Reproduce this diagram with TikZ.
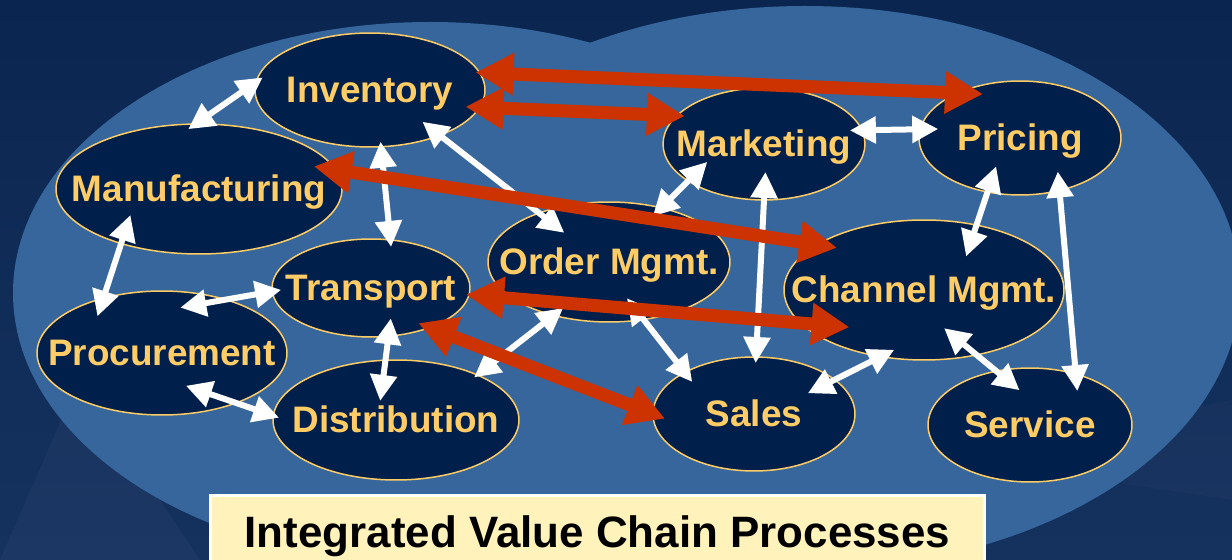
\documentclass[tikz,border=0pt]{standalone}
\usepackage{fontspec}
\setmainfont{Liberation Sans}
\usetikzlibrary{shapes,arrows.meta}
\definecolor{cSky}{HTML}{0A2650}
\definecolor{cSkyLow}{HTML}{15315E}
\definecolor{cBlob}{HTML}{36669B}
\definecolor{cNavy}{HTML}{011F4B}
\definecolor{cGold}{HTML}{FFCC66}
\definecolor{cRed}{HTML}{CC3300}
\definecolor{cCream}{HTML}{FFF2BB}
% process names keep the ellipse at its given size
\newcommand{\pname}[1]{\makebox[0pt]{#1}}

\begin{document}
\begin{tikzpicture}[x=0.02cm, y=-0.02cm,
    proc/.style={ellipse, draw=cGold, line width=0.03cm, fill=cNavy, text=cGold,
      inner sep=0pt, outer sep=0pt, text height=0.52cm, text depth=0pt,
      font=\bfseries\fontsize{21}{25}\selectfont},
    wlink/.style={draw=white, line width=0.12cm, >={Triangle[length=0.52cm,width=0.52cm]}, <->},
    rlink/.style={draw=cRed, line width=0.26cm, >={Triangle[length=0.76cm,width=0.8cm]}, <->},
    namebox/.style={draw=white, line width=0.06cm, fill=cCream, text=black, inner sep=0pt,
      font=\bfseries\fontsize{25}{30}\selectfont}]
  \useasboundingbox (0,0) rectangle (1232,560);
  \clip (0,0) rectangle (1232,560);
  % background
  \shade[top color=cSky, bottom color=cSkyLow] (0,0) rectangle (1232,560);
  \fill[white, opacity=0.03] (0,560) -- (70,400) -- (160,500) -- (200,560) -- cycle;
  \fill[white, opacity=0.025] (1040,440) -- (1232,400) -- (1232,500) -- (1100,480) -- cycle;
  \fill[cBlob] (430,293) ellipse [x radius=417, y radius=271];
  \fill[cBlob] (805,288) ellipse [x radius=435, y radius=282];

  % processes
  \node[proc, minimum width=4.6cm, minimum height=2.28cm] (inv) at (370,90) {\pname{Inventory}};
  \node[proc, minimum width=5.72cm, minimum height=2.6cm] (man) at (199,189) {\pname{Manufacturing}};
  \node[proc, minimum width=5cm, minimum height=2.48cm] (pro) at (162,353) {\pname{Procurement}};
  \node[proc, minimum width=3.96cm, minimum height=1.96cm] (tra) at (371,288) {\pname{Transport}};
  \node[proc, minimum width=4.92cm, minimum height=2.4cm] (dis) at (396,420) {\pname{Distribution}};
  \node[proc, minimum width=4.84cm, minimum height=2.4cm] (ord) at (609,262) {\pname{Order Mgmt.}};
  \node[proc, minimum width=4.04cm, minimum height=2.24cm] (mar) at (764,144) {\pname{Marketing}};
  \node[proc, minimum width=4.04cm, minimum height=2.28cm] (pri) at (1020,138) {\pname{Pricing}};
  \node[proc, minimum width=5.6cm, minimum height=2.8cm] (cha) at (924,290) {\pname{Channel Mgmt.}};
  \node[proc, minimum width=4.04cm, minimum height=2.28cm] (sal) at (754,414) {\pname{Sales}};
  \node[proc, minimum width=4.08cm, minimum height=2.28cm] (ser) at (1030,425) {\pname{Service}};

  % white links
  \draw[wlink, shorten <=-0.16cm, shorten >=-0.18cm] (inv.176) -- (man.93);
  \draw[wlink, shorten <=-0.1cm, shorten >=-0.14cm] (inv.281) -- (tra.68);
  \draw[wlink, shorten <=-0.44cm, shorten >=-0.64cm] (inv.327) -- (ord.145);
  \draw[wlink, shorten <=-0.6cm, shorten >=-0.38cm] (man.215) -- (pro.137);
  \draw[wlink, shorten <=-0.92cm, shorten >=-0.18cm] (pro.40) -- (tra.182);
  \draw[wlink, shorten <=-1.06cm, shorten >=-0.12cm] (pro.326) -- (dis.178);
  \draw[wlink, shorten <=-0.36cm, shorten >=-0.82cm] (tra.290) -- (dis.100);
  \draw[wlink, shorten <=-0.08cm, shorten >=-0.24cm] (dis.29) -- (ord.224);
  \draw[wlink, shorten <=-0.24cm, shorten >=-0.54cm] (ord.46) -- (mar.206);
  \draw[wlink, shorten <=-0.24cm, shorten >=-0.36cm] (mar.8) -- (pri.175);
  \draw[wlink, shorten <=-0.56cm, shorten >=-0.12cm] (mar.270) -- (sal.88);
  \draw[wlink, shorten <=-0.54cm, shorten >=-0.66cm] (pri.239) -- (cha.51);
  \draw[wlink, shorten <=-0.38cm, shorten >=-0.34cm] (pri.307) -- (ser.48);
  \draw[wlink, shorten <=-0.54cm, shorten >=-0.24cm] (ord.301) -- (sal.149);
  \draw[wlink, shorten <=-0.6cm, shorten >=-0.3cm] (sal.23) -- (cha.237);
  \draw[wlink, shorten <=-0.84cm, shorten >=-0.6cm] (cha.309) -- (ser.122);

  % red links
  \draw[rlink, shorten <=-0.08cm, shorten >=-0.5cm] (inv.9) -- (pri.144);
  \draw[rlink, shorten <=-0.28cm, shorten >=-0.16cm] (inv.351) -- (mar.162);
  \draw[rlink, shorten <=-0.44cm, shorten >=-0.4cm] (man.8) -- (cha.157);
  \draw[rlink, shorten <=-0.06cm, shorten >=-0.98cm] (tra.356) -- (cha.195);
  \draw[rlink, shorten <=-0.24cm, shorten >=-0.26cm] (tra.326) -- (sal.180);

  \node[namebox, anchor=north, minimum width=15.48cm, minimum height=1.6cm] (title)
    at (597.5,494.5) {Integrated Value Chain Processes};
\end{tikzpicture}
\end{document}
